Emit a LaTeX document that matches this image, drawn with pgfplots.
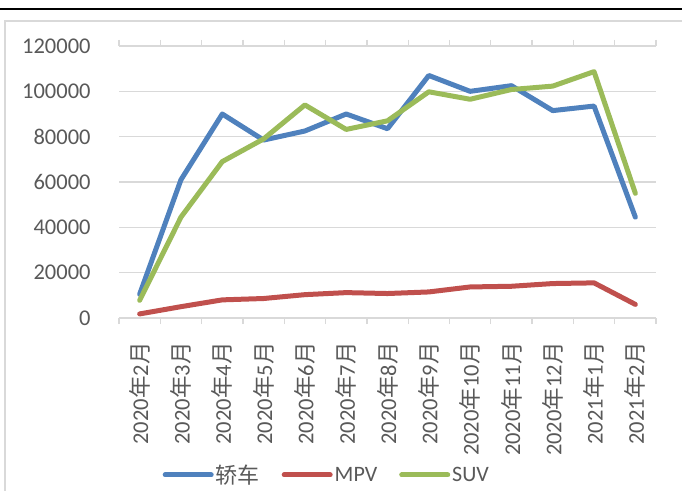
\documentclass[border=0pt]{standalone}
\usepackage{fontspec}
\setmainfont{Carlito}
\newfontfamily\cjk{Noto Sans CJK SC}
\usepackage{pgfplots}
\pgfplotsset{compat=1.18}
\definecolor{cblue}{HTML}{4F81BD}
\definecolor{cred}{HTML}{C0504D}
\definecolor{cgreen}{HTML}{9BBB59}
\definecolor{ctext}{HTML}{595959}
\definecolor{cgrid}{HTML}{D9D9D9}
\newcommand{\nian}{{\cjk 年}}
\newcommand{\yue}{{\cjk 月}}
\begin{document}
\begin{tikzpicture}[x=1bp,y=1bp]
\useasboundingbox (0,0) rectangle (682,-491);
\draw[black, line width=2.5bp] (0,-9) -- (682,-9);
\draw[cgrid, line width=1.5bp] (5,-491) -- (5,-21) -- (682,-21);
\begin{axis}[
  at={(119bp,-318bp)}, anchor=south west,
  width=537bp, height=272bp, scale only axis,
  xmin=-0.5, xmax=12.5, ymin=0, ymax=120000,
  axis line style={draw=none},
  ytick={0,20000,...,120000},
  scaled y ticks=false,
  yticklabel style={/pgf/number format/fixed, /pgf/number format/1000 sep={}, /pgf/number format/assume math mode=true, anchor=east, inner sep=0pt, xshift=-24bp, text=ctext, font=\fontsize{22.5bp}{26bp}\selectfont},
  ymajorgrids, grid style={cgrid, line width=1.3bp},
  major y tick style={draw=none},
  xtick={0,...,12},
  xticklabels={2020\nian2\yue,2020\nian3\yue,2020\nian4\yue,2020\nian5\yue,2020\nian6\yue,2020\nian7\yue,2020\nian8\yue,2020\nian9\yue,2020\nian10\yue,2020\nian11\yue,2020\nian12\yue,2021\nian1\yue,2021\nian2\yue},
  major x tick style={draw=none},
  minor xtick={-0.5,0.5,...,12.5},
  minor tick length=6bp,
  minor x tick style={cgrid, line width=1.3bp},
  tick align=outside,
  xticklabel style={rotate=90, anchor=east, inner sep=0pt, text=ctext, font=\fontsize{22.5bp}{26bp}\selectfont},
  xticklabel shift=20bp,
  legend columns=3,
  legend style={draw=none, fill=none, at={(axis description cs:0.387,-0.577)}, anchor=center, text=ctext, font=\fontsize{22bp}{26bp}\selectfont, /tikz/every even column/.append style={column sep=20bp}, inner sep=0pt},
  legend image code/.code={\draw[#1, line width=5bp, line cap=round] (0bp,0bp) -- (46bp,0bp);},
  every axis plot/.append style={line width=5bp, line join=round, line cap=round},
]
\draw[cgrid, line width=1.3bp] (axis cs:-0.5,0) -- (axis cs:12.5,0);
\addplot[cblue] coordinates {(0,10500) (1,61000) (2,90000) (3,78500) (4,82500) (5,90000) (6,83500) (7,107000) (8,100000) (9,102500) (10,91500) (11,93500) (12,44500)};
\addlegendentry{\cjk 轿车}
\addplot[cred] coordinates {(0,1800) (1,5000) (2,8000) (3,8600) (4,10300) (5,11200) (6,10800) (7,11500) (8,13700) (9,14000) (10,15200) (11,15500) (12,6000)};
\addlegendentry{MPV}
\addplot[cgreen] coordinates {(0,7800) (1,44500) (2,69000) (3,79000) (4,94000) (5,83200) (6,87000) (7,99800) (8,96500) (9,100800) (10,102300) (11,108700) (12,55000)};
\addlegendentry{SUV}
\end{axis}
\end{tikzpicture}
\end{document}
